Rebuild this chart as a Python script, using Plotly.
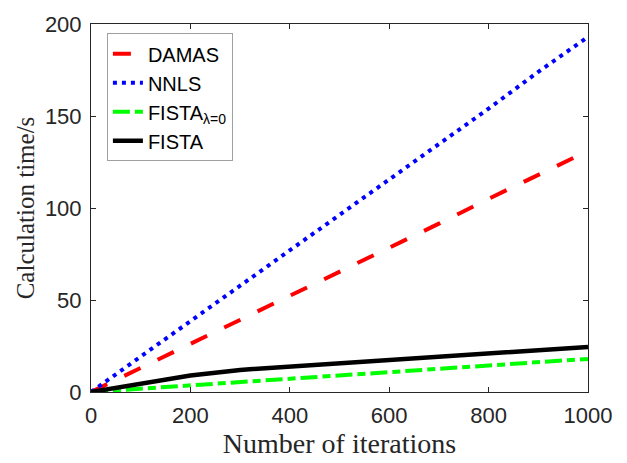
import plotly.graph_objects as go

iterations = [0, 100, 200, 300, 400, 500, 600, 700, 800, 900, 1000]
damas = [0, 13, 26, 39, 52, 65.5, 78.5, 91.5, 105, 118, 131]
nnls = [0, 19.3, 38.6, 58, 77, 96.5, 116, 135, 154, 174, 193]
fista_l0 = [0, 1.8, 3.6, 5.4, 7.2, 9, 10.8, 12.6, 14.4, 16.2, 18]
fista = [0, 4.5, 9, 12, 13.8, 15.6, 17.4, 19.1, 20.9, 22.7, 24.5]

x_ticks = [0, 200, 400, 600, 800, 1000]
y_ticks = [0, 50, 100, 150, 200]

fig = go.Figure()
fig.add_trace(go.Scatter(x=iterations, y=damas, mode="lines", name="DAMAS",
                         line=dict(color="#ff0000", width=4, dash="18px,19px")))
fig.add_trace(go.Scatter(x=iterations, y=nnls, mode="lines", name="NNLS",
                         line=dict(color="#0000ff", width=4, dash="4px,5px")))
fig.add_trace(go.Scatter(x=iterations, y=fista_l0, mode="lines", name="FISTA<sub>λ=0</sub>",
                         line=dict(color="#00ff00", width=4, dash="17px,5px,8px,5px")))
fig.add_trace(go.Scatter(x=iterations, y=fista, mode="lines", name="FISTA",
                         line=dict(color="#000000", width=4.5)))

axis_common = dict(showline=True, linecolor="#262626", linewidth=1, mirror="ticks",
                   ticks="inside", ticklen=5, tickcolor="#262626", showgrid=False,
                   zeroline=False, tickfont=dict(family="Liberation Sans, Arial", size=22, color="#262626"))

fig.update_layout(
    width=627, height=463, autosize=False,
    margin=dict(l=91, r=39, t=16, b=71),
    paper_bgcolor="white", plot_bgcolor="white",
    xaxis=dict(range=[0, 1000], tickvals=x_ticks, ticklabelstandoff=4,
               title=dict(text="Number of iterations", standoff=2,
                          font=dict(family="Liberation Serif, Times New Roman", size=28, color="#262626")),
               **axis_common),
    yaxis=dict(range=[0, 200], tickvals=y_ticks, ticklabelstandoff=4,
               title=dict(text="Calculation time/s", standoff=3,
                          font=dict(family="Liberation Serif, Times New Roman", size=25, color="#262626")),
               **axis_common),
    legend=dict(x=0.032, y=0.975, xanchor="left", yanchor="top",
                bgcolor="white", bordercolor="#a0a0a0", borderwidth=1,
                font=dict(family="Liberation Sans, Arial", size=20, color="#000000"),
                tracegroupgap=0),
    showlegend=True,
)

fig.write_html("out.html")
